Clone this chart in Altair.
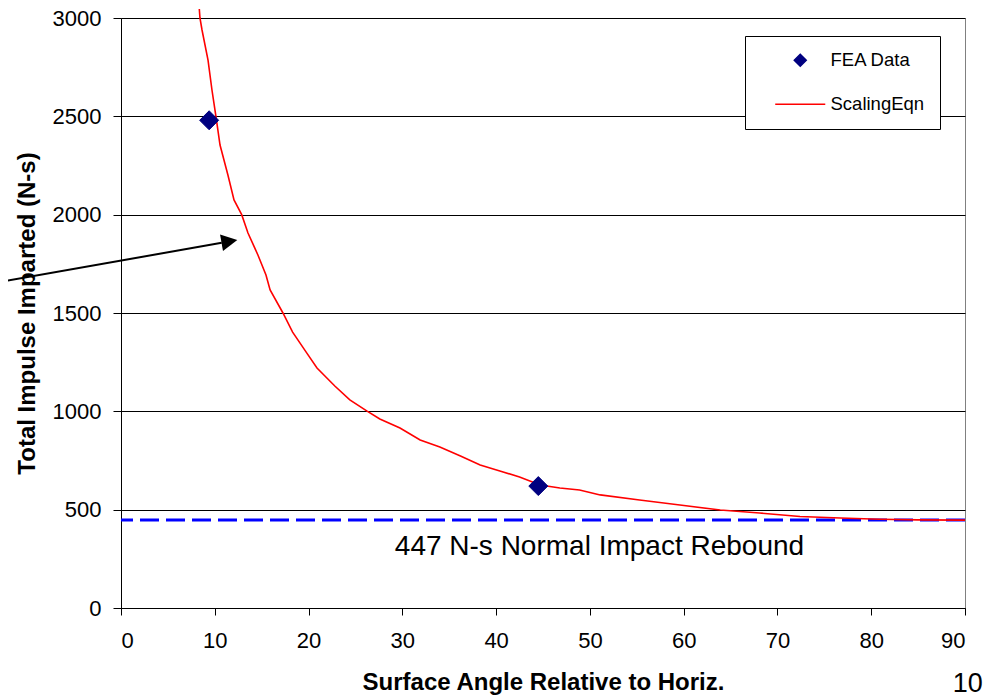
import altair as alt
import pandas as pd

# ---- data ----
fea_angle = [9.4, 44.5]
fea_impulse = [2480, 620]

eqn_angle = [8.35, 8.42, 8.64, 9.28, 9.7, 10.13, 10.56, 11.4, 12.05, 12.87, 13.54,
             14.6, 15.46, 15.9, 17.27, 18.3, 19.8, 20.9, 22.8, 24.4, 26.2, 27.6,
             29.75, 31.9, 34.0, 36.2, 38.3, 40.4, 42.5, 44.7, 46.8, 48.9, 51.1,
             55.3, 59.6, 63.9, 68.1, 72.4, 76.7, 80.9, 85.0, 90.0]
eqn_impulse = [3046, 3000, 2939, 2786, 2634, 2497, 2354, 2202, 2075, 2000, 1907,
               1795, 1693, 1617, 1500, 1403, 1297, 1220, 1129, 1058, 1002, 961,
               915, 854, 819, 773, 727, 697, 666, 625, 610, 600, 575,
               549, 524, 498, 483, 465, 458, 451, 448, 447]

series_names = ["FEA Data", "ScalingEqn"]
series_colors = ["#000080", "#ff0000"]

rebound_value = [447]
rebound_label = ["447 N-s Normal Impact Rebound"]
rebound_label_pos = [(29.2, 270)]

arrow_x = [-12.9, 10.74]
arrow_y = [1658, 1857]
arrow_tip = [(12.4, 1871)]

page_label = ["10"]
page_label_pos = [(88.7, -428)]

x_ticks = list(range(0, 91, 10))
y_ticks = list(range(0, 3001, 500))

FONT = "Liberation Sans"

fea_df = pd.DataFrame({"angle": fea_angle, "impulse": fea_impulse, "series": series_names[0]})
eqn_df = pd.DataFrame({"angle": eqn_angle, "impulse": eqn_impulse, "series": series_names[1]})
rule_df = pd.DataFrame({"impulse": rebound_value})
label_df = pd.DataFrame({"angle": [p[0] for p in rebound_label_pos],
                         "impulse": [p[1] for p in rebound_label_pos],
                         "text": rebound_label})
arrow_df = pd.DataFrame({"angle": arrow_x, "impulse": arrow_y, "order": [0, 1]})
tip_df = pd.DataFrame({"angle": [arrow_tip[0][0]], "impulse": [arrow_tip[0][1]]})
page_df = pd.DataFrame({"angle": [page_label_pos[0][0]], "impulse": [page_label_pos[0][1]],
                        "text": page_label})

xscale = alt.Scale(domain=[0, 90], nice=False, zero=False)
yscale = alt.Scale(domain=[0, 3000], nice=False)

xaxis = alt.Axis(values=x_ticks, grid=False, title="Surface Angle Relative to Horiz.",
                 format="d", tickSize=7, labelPadding=15, titleY=81, titleBaseline="alphabetic")
yaxis = alt.Axis(values=y_ticks, grid=True, title="Total Impulse Imparted (N-s)",
                 format="d", tickSize=8, labelPadding=12, titleX=-87, titleBaseline="alphabetic")

X = alt.X("angle:Q", scale=xscale, axis=xaxis)
Y = alt.Y("impulse:Q", scale=yscale, axis=yaxis)
Xn = alt.X("angle:Q", scale=xscale)
Yn = alt.Y("impulse:Q", scale=yscale)

legend = alt.Legend(
    title=None, orient="none", legendX=624, legendY=18,
    fillColor="white", strokeColor="black", padding=15, rowPadding=25,
    symbolOffset=31, labelOffset=21, labelFont=FONT, labelFontSize=18.5,
    labelColor="black", symbolSize=144, symbolStrokeWidth=1.5, symbolOpacity=1,
)
color_scale = alt.Scale(domain=series_names, range=series_colors)
shape_scale = alt.Scale(domain=series_names, range=["diamond", "M-4.17,0L4.17,0"])

fill_enc = alt.Fill("series:N", scale=color_scale, legend=legend)
stroke_enc = alt.Stroke("series:N", scale=color_scale, legend=legend)
shape_enc = alt.Shape("series:N", scale=shape_scale, legend=legend)

base_axes = alt.Chart(eqn_df).mark_line(opacity=0).encode(x=X, y=Y)

rule = alt.Chart(rule_df).mark_rule(color="#0000ff", strokeWidth=3, strokeDash=[19, 7]).encode(y=Yn)

curve = alt.Chart(eqn_df).mark_line(strokeWidth=1.6, clip=False).encode(
    x=Xn, y=Yn, stroke=stroke_enc, order=alt.Order("angle:Q"))

points = alt.Chart(fea_df).mark_point(filled=True, size=361, opacity=1, strokeWidth=1,
                                      clip=False).encode(
    x=Xn, y=Yn, fill=fill_enc, stroke=stroke_enc, shape=shape_enc)

label = alt.Chart(label_df).mark_text(align="left", baseline="alphabetic", font=FONT,
                                      fontSize=28, color="black").encode(x=Xn, y=Yn, text="text:N")

arrow_line = alt.Chart(arrow_df).mark_line(color="black", strokeWidth=2, clip=False).encode(
    x=Xn, y=Yn, order="order:Q")
arrow_head = alt.Chart(tip_df).mark_point(shape="M0,0L-2,-1.05L-2,1.05Z", filled=True,
                                          color="black", size=256, angle=350, opacity=1,
                                          clip=False).encode(x=Xn, y=Yn)

page = alt.Chart(page_df).mark_text(align="left", baseline="alphabetic", font=FONT,
                                    fontSize=27, color="black", clip=False).encode(
    x=Xn, y=Yn, text="text:N")

chart = alt.layer(base_axes, rule, curve, points, label, arrow_line, arrow_head, page).properties(
    width=844, height=590,
    background="white",
    autosize=alt.AutoSizeParams(type="none"),
    padding={"left": 113, "top": 10, "right": 25, "bottom": 89},
).configure_view(
    stroke="#808080", strokeWidth=1
).configure_axis(
    labelFont=FONT, labelFontSize=22, labelColor="black",
    titleFont=FONT, titleFontSize=24, titleFontWeight="bold", titleColor="black",
    domainColor="black", tickColor="black", gridColor="black", gridWidth=1,
    gridOpacity=1, domainWidth=1, tickWidth=1,
)

chart.save("out.html", embed_options={"renderer": "svg", "actions": False})
